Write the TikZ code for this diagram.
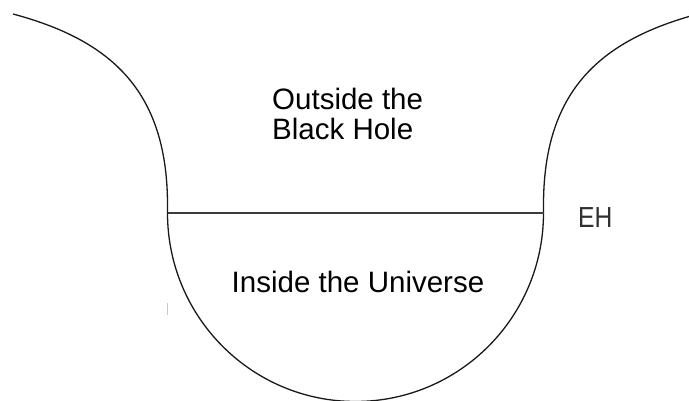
\documentclass[tikz,border=0pt]{standalone}
\usepackage{fontspec}
\setmainfont{Liberation Sans}
\usepackage{xcolor}
\definecolor{ehblack}{RGB}{25,25,25}
\definecolor{ehline}{RGB}{60,60,60}
\definecolor{ehgray}{RGB}{200,200,200}
\tikzset{
  wall/.style={line width=1.3pt, ehblack},
  horizon/.style={line width=1.4pt, ehline},
  regiontext/.style={font=\fontsize{29.5}{29.5}\selectfont, inner sep=0pt},
  ehtext/.style={font=\fontsize{29}{29}\selectfont, inner sep=0pt, xscale=0.85, ehblack!90}
}

\begin{document}
\begin{tikzpicture}[x=1pt, y=-1pt]
  \useasboundingbox (0,0) rectangle (689,401);

  % Event horizon end points
  \coordinate (ehL) at (167.5,213);
  \coordinate (ehR) at (543.5,213);

  % Left wall
  \draw[wall] (13,14) .. controls (110,40) and (167.5,90) .. (167.5,205) -- (ehL);
  % Bowl (inside the universe)
  \draw[wall] (ehL) arc[start angle=180, end angle=0, x radius=188, y radius=188.5];
  % Right wall
  \draw[wall] (ehR) -- (543.5,205) .. controls (543.5,90) and (601,40) .. (698,14);
  % Event horizon
  \draw[horizon] (ehL) -- (ehR);
  % small mark left of bowl
  \draw[ehgray, line width=0.8pt] (167,303) -- (167,315);

  % --- Labels ---
  \node[regiontext, anchor=north west, align=left] (outside) at (272,88) {Outside the\\Black Hole};
  \node[regiontext, anchor=base] (inside) at (358,293) {Inside the Universe};
  \node[ehtext, anchor=base west] (eh) at (578,228) {EH};
\end{tikzpicture}
\end{document}
